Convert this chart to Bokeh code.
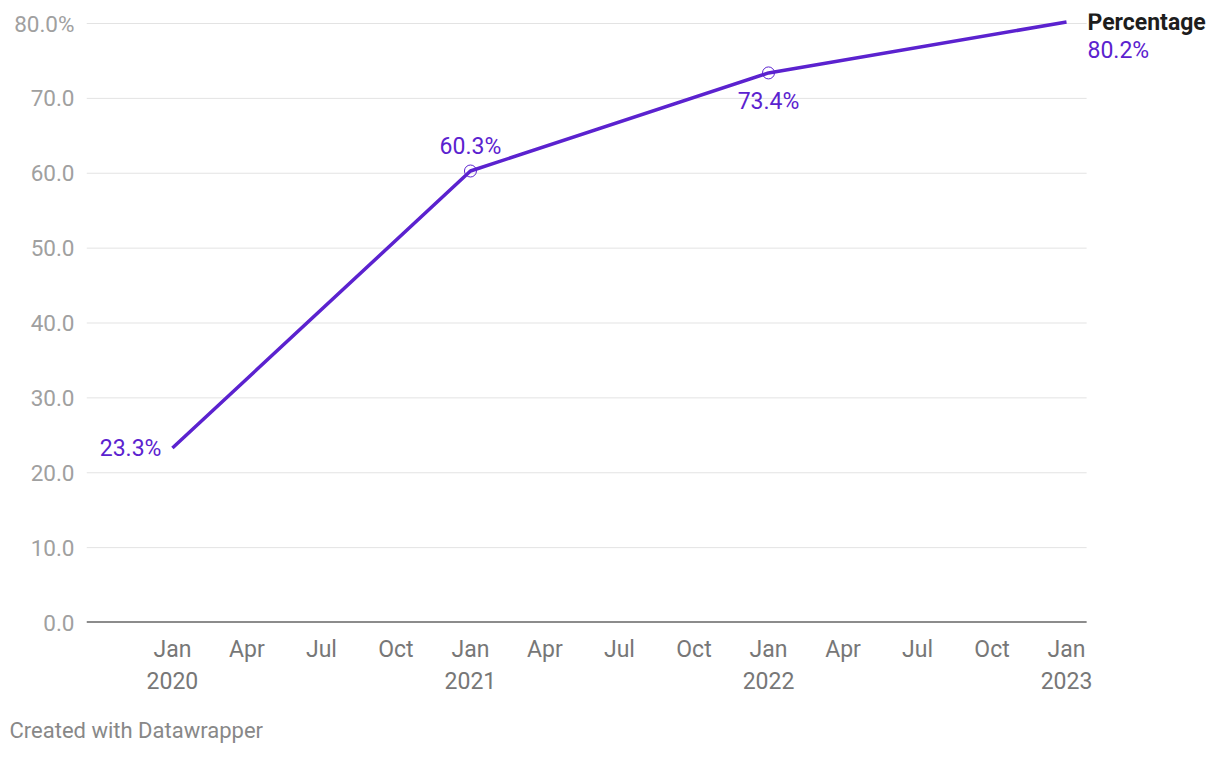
from bokeh.plotting import figure
from bokeh.models import FixedTicker, Range1d, Label, Title
from bokeh.embed import file_html
from bokeh.resources import INLINE

# ---- data ----
dates = ["2020-01", "2021-01", "2022-01", "2023-01"]
values = [23.3, 60.3, 73.4, 80.2]
series_name = "Percentage"
marker_dates = ["2021-01", "2022-01"]
x_tick_labels = ["Jan\n2020", "Apr", "Jul", "Oct",
                 "Jan\n2021", "Apr", "Jul", "Oct",
                 "Jan\n2022", "Apr", "Jul", "Oct",
                 "Jan\n2023"]
y_ticks = [0, 10, 20, 30, 40, 50, 60, 70, 80]
y_tick_labels = ["0.0", "10.0", "20.0", "30.0", "40.0", "50.0", "60.0", "70.0", "80.0%"]
footer = "Created with Datawrapper"

def month_index(d):
    y, m = d.split("-")
    return (int(y) - 2020) * 12 + int(m) - 1

xs = [month_index(d) for d in dates]
mxs = [month_index(d) for d in marker_dates]
mys = [values[dates.index(d)] for d in marker_dates]

PURPLE = "#5b22cf"
FONT = "Roboto"

X0, X1 = -3.46, 36.81          # extent of the grid lines
p = figure(width=1220, height=770, output_backend="svg", toolbar_location=None,
           x_range=Range1d(X0, 42.20), y_range=Range1d(0, 81.336))
p.min_border_left = 86
p.min_border_right = 0
p.min_border_top = 13
p.min_border_bottom = 148
p.outline_line_color = None
p.background_fill_color = "white"
p.border_fill_color = "white"

# grid (drawn as segments so they stop before the series label)
p.xgrid.grid_line_color = None
p.ygrid.grid_line_color = None
grid_y = [t for t in y_ticks if t != 0]
p.segment(x0=[X0] * len(grid_y), y0=grid_y, x1=[X1] * len(grid_y), y1=grid_y,
          line_color="#e3e3e3", line_width=1)
p.segment(x0=[X0], y0=[0], x1=[X1], y1=[0], line_color="#1a1a1a", line_width=2)

# y axis
ya = p.yaxis[0]
ya.ticker = FixedTicker(ticks=y_ticks)
ya.major_label_overrides = {t: l for t, l in zip(y_ticks, y_tick_labels)}
ya.axis_line_color = None
ya.major_tick_line_color = None
ya.minor_tick_line_color = None
ya.major_tick_out = 0
ya.major_tick_in = 0
ya.major_label_standoff = 12
ya.major_label_text_font = FONT
ya.major_label_text_font_size = "22.5px"
ya.major_label_text_color = "#a0a0a0"

# x axis
x_ticks = list(range(0, 37, 3))
xa = p.xaxis[0]
xa.ticker = FixedTicker(ticks=x_ticks)
xa.major_label_overrides = {t: l for t, l in zip(x_ticks, x_tick_labels)}
xa.axis_line_color = None
xa.major_tick_line_color = None
xa.minor_tick_line_color = None
xa.major_tick_out = 0
xa.major_tick_in = 0
xa.major_label_standoff = 13
xa.major_label_text_font = FONT
xa.major_label_text_font_size = "23px"
xa.major_label_text_color = "#777777"

# line
p.line(xs, values, line_color=PURPLE, line_width=3.5)
p.scatter(mxs, mys, size=12, fill_color="white", fill_alpha=0.0,
          line_color=PURPLE, line_width=1)

# value labels
lab_kw = dict(text_font=FONT, text_font_size="23px", text_color=PURPLE,
              text_baseline="middle")
p.add_layout(Label(x=xs[0], y=values[0], text=f"{values[0]}%", text_align="right",
                   x_offset=-11, y_offset=0, **lab_kw))
p.add_layout(Label(x=xs[1], y=values[1], text=f"{values[1]}%", text_align="center",
                   x_offset=0, y_offset=25, **lab_kw))
p.add_layout(Label(x=xs[2], y=values[2], text=f"{values[2]}%", text_align="center",
                   x_offset=0, y_offset=-29, **lab_kw))
p.add_layout(Label(x=xs[3], y=values[3], text=f"{values[3]}%", text_align="left",
                   x_offset=21, y_offset=-28, **lab_kw))
p.add_layout(Label(x=xs[3], y=values[3], text=series_name, text_align="left",
                   x_offset=21, y_offset=0, text_font=FONT, text_font_size="23px",
                   text_font_style="bold", text_color="#1d1d1d", text_baseline="middle"))

# footer
p.add_layout(Title(text=footer, align="left", offset=-77, standoff=36,
                   text_font=FONT, text_font_size="22px", text_font_style="normal",
                   text_color="#888888"), "below")

open("out.html", "w").write(file_html(p, INLINE))
